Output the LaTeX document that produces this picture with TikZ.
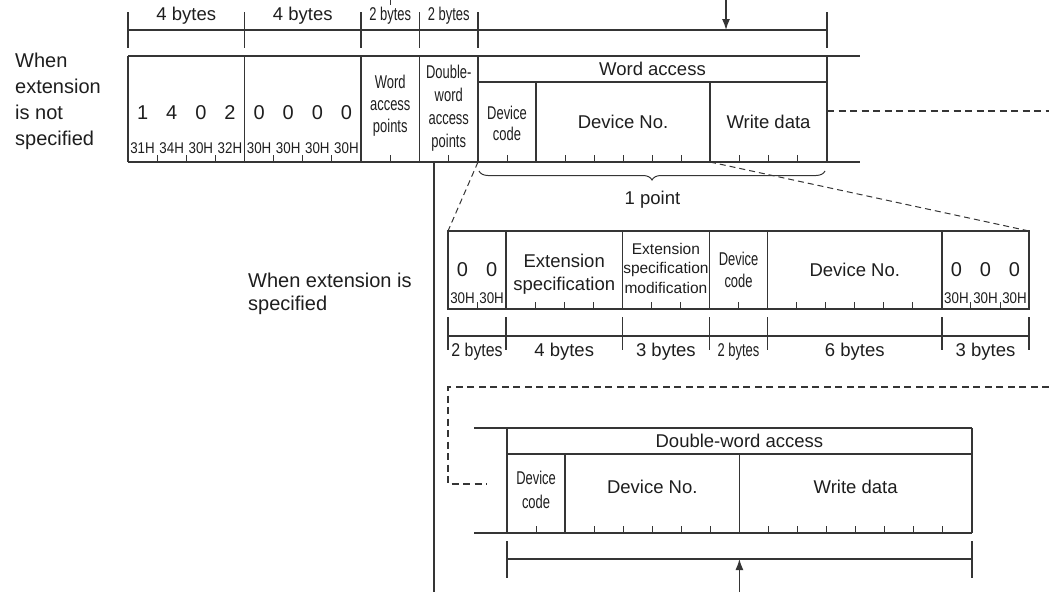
\documentclass[tikz,border=0pt]{standalone}
\usepackage{fontspec}
\setmainfont{Liberation Sans}
\newfontfamily\narrowfont[FakeStretch=0.7]{Liberation Sans}
\newfontfamily\semifont[FakeStretch=0.86]{Liberation Sans}
\usetikzlibrary{arrows.meta,decorations.pathreplacing}
\definecolor{linec}{HTML}{353535}
\definecolor{txtc}{HTML}{1E1E1E}
\begin{document}
\begin{tikzpicture}[x=1pt,y=-1pt,
  ln/.style={draw=linec,line width=1.3pt},
  tk/.style={draw=linec,line width=1pt},
  thindash/.style={draw=linec,line width=1pt,dash pattern=on 6pt off 4pt},
  thickdash/.style={draw=linec,line width=2.8pt,dash pattern=on 7pt off 4.5pt},
  lbl/.style={inner sep=0pt,text=txtc,font=\fontsize{18.5}{22}\selectfont},
  nar/.style={inner sep=0pt,text=txtc,align=center,font=\fontsize{18.5}{21}\narrowfont},
  semi/.style={inner sep=0pt,text=txtc,font=\fontsize{18.5}{22}\semifont},
  hex/.style={inner sep=0pt,text=txtc,font=\fontsize{15.5}{17}\semifont},
  dig/.style={inner sep=0pt,text=txtc,font=\fontsize{20}{24}\selectfont},
  side/.style={inner sep=0pt,text=txtc,align=left,font=\fontsize{20}{26}\selectfont},
  arr/.style={draw=linec,line width=1.3pt,-{Latex[length=11pt,width=8pt]}}
]
\useasboundingbox (0,0) rectangle (1049,592);

% ---------- top dimension row ----------
\coordinate (stubA) at (390,0); \coordinate (stubB) at (390,5);
\draw[tk] (stubA) -- (stubB);
\coordinate (arrTopS) at (726,0); \coordinate (arrTopE) at (726,30);
\draw[arr] (arrTopS) -- (arrTopE);
\draw[ln] (128,30) -- (827,30);
\foreach \x in {128,244.5,361,419.5,478,827} \draw[ln] (\x,12) -- (\x,48);
\node[lbl] (tb1) at (186.25,16) {4 bytes};
\node[lbl] (tb2) at (302.75,16) {4 bytes};
\node[nar] (tb3) at (390.25,16) {2 bytes};
\node[nar] (tb4) at (448.75,16) {2 bytes};

% ---------- frame without extension ----------
\draw[ln] (128,56) -- (860,56);
\draw[ln] (128,162) -- (860,162);
\foreach \x in {128,244.5,361,419.5,478,827} \draw[ln] (\x,56) -- (\x,162);
\draw[ln] (478,82) -- (827,82);
\draw[ln] (536,82) -- (536,162);
\draw[ln] (710,82) -- (710,162);
\foreach \x in {157.1,186.3,215.4,273.6,302.8,331.9,390.2,448.7,507,565,594,623,652,681,739,768,797}
  \draw[tk] (\x,162) -- (\x,155);
\foreach \i/\d in {0/1,1/4,2/0,3/2,4/0,5/0,6/0,7/0}
  \node[dig] (d\i) at ({128+29.125*(\i+0.5)},113) {\d};
\foreach \i/\t in {0/31H,1/34H,2/30H,3/32H,4/30H,5/30H,6/30H,7/30H}
  \node[hex] (h\i) at ({128+29.125*(\i+0.5)},148) {\t};
\node[nar,font=\fontsize{18.5}{22}\narrowfont] (wap) at (390.25,106) {Word\\access\\points};
\node[nar,font=\fontsize{18.5}{23}\narrowfont] (dwap) at (448.75,108) {Double-\\word\\access\\points};
\node[lbl] (wacc) at (652.5,69) {Word access};
\node[nar] (dc1) at (507,123) {Device\\code};
\node[lbl] (dn1) at (623,122) {Device No.};
\node[lbl] (wd1) at (768.5,122) {Write data};
\node[side] (notspec) at (15,0) [anchor=north west, yshift=-53pt] {When\\extension\\is not\\specified};

\coordinate (wR) at (827,111); \coordinate (wRR) at (1049,111);
\draw[thickdash] (wR) -- (wRR);

% brace
\draw[ln,line width=1pt,decorate,decoration={brace,mirror,amplitude=9pt}] (479,171) -- (825,171);
\node[lbl] (onept) at (652.5,200) {1 point};

% zoom lines
\coordinate (zA) at (478,162); \coordinate (zB) at (448,231);
\coordinate (zC) at (710,162); \coordinate (zD) at (1029,231);
\draw[thindash] (zA) -- (zB);
\draw[thindash] (zC) -- (zD);

% long vertical line
\coordinate (vT) at (434,162); \coordinate (vB) at (434,592);
\draw[ln] (vT) -- (vB);

% ---------- frame with extension ----------
\node[side,font=\fontsize{20}{23}\selectfont] (spec) at (248,294) [anchor=west] {When extension is\\specified};
\draw[ln] (448,231) rectangle (1029,309);
\foreach \x in {506.1,622.3,709.5,767.6,941.9} \draw[ln] (\x,231) -- (\x,309);
\foreach \x in {477.05,535.15,564.2,593.25,651.35,680.4,738.55,796.7,825.75,854.8,883.85,912.9,970.95,1000}
  \draw[tk] (\x,309) -- (\x,302);
\node[dig] (e0a) at (462.5,270) {0};
\node[dig] (e0b) at (491.6,270) {0};
\node[hex] (e0ah) at (462.5,298) {30H};
\node[hex] (e0bh) at (491.6,298) {30H};
\node[lbl,align=center,font=\fontsize{18.5}{23}\selectfont] (extsp) at (564.2,274) {Extension\\specification};
\node[lbl,align=center,font=\fontsize{15.5}{19.5}\selectfont] (extmod) at (665.9,268) {Extension\\specification\\modification};
\node[nar,font=\fontsize{18.5}{22}\narrowfont] (dc2) at (738.55,270) {Device\\code};
\node[lbl] (dn2) at (854.8,270) {Device No.};
\node[dig] (e1a) at (956.4,270) {0};
\node[dig] (e1b) at (985.5,270) {0};
\node[dig] (e1c) at (1014.5,270) {0};
\node[hex] (e1ah) at (956.4,298) {30H};
\node[hex] (e1bh) at (985.5,298) {30H};
\node[hex] (e1ch) at (1014.5,298) {30H};

\draw[ln] (448,336) -- (1029,336);
\foreach \x in {448,506.1,622.3,709.5,767.6,941.9,1029} \draw[ln] (\x,317) -- (\x,350);
\node[semi] (bb1) at (477.05,352) {2 bytes};
\node[lbl] (bb2) at (564.2,352) {4 bytes};
\node[lbl] (bb3) at (665.9,352) {3 bytes};
\node[nar] (bb4) at (738.55,352) {2 bytes};
\node[lbl] (bb5) at (854.8,352) {6 bytes};
\node[lbl] (bb6) at (985.5,352) {3 bytes};

% ---------- double-word frame ----------
\coordinate (dA) at (1049,387); \coordinate (dB) at (448,387);
\coordinate (dC) at (448,484); \coordinate (dD) at (487,484);
\draw[thickdash] (dA) -- (dB) -- (dC) -- (dD);

\draw[ln] (474,428) -- (972,428);
\draw[ln] (474,533) -- (972,533);
\draw[ln] (507,428) -- (507,533);
\draw[ln] (972,428) -- (972,533);
\draw[ln] (507,454) -- (972,454);
\draw[ln] (565.1,454) -- (565.1,533);
\draw[ln] (739.4,454) -- (739.4,533);
\foreach \x in {536.05,594.15,623.2,652.25,681.3,710.35,768.45,797.5,826.55,855.6,884.65,913.7,942.75}
  \draw[tk] (\x,533) -- (\x,526);
\node[lbl] (dwacc) at (739.4,441) {Double-word access};
\node[nar,font=\fontsize{18.5}{24}\narrowfont] (dc3) at (536.05,490) {Device\\code};
\node[lbl] (dn3) at (652.25,487) {Device No.};
\node[lbl] (wd3) at (855.6,487) {Write data};

\draw[ln] (507,559) -- (972,559);
\draw[ln] (507,541) -- (507,578);
\draw[ln] (972,541) -- (972,578);
\coordinate (arrBotS) at (739.4,592); \coordinate (arrBotE) at (739.4,559);
\draw[arr] (arrBotS) -- (arrBotE);
\end{tikzpicture}
\end{document}
